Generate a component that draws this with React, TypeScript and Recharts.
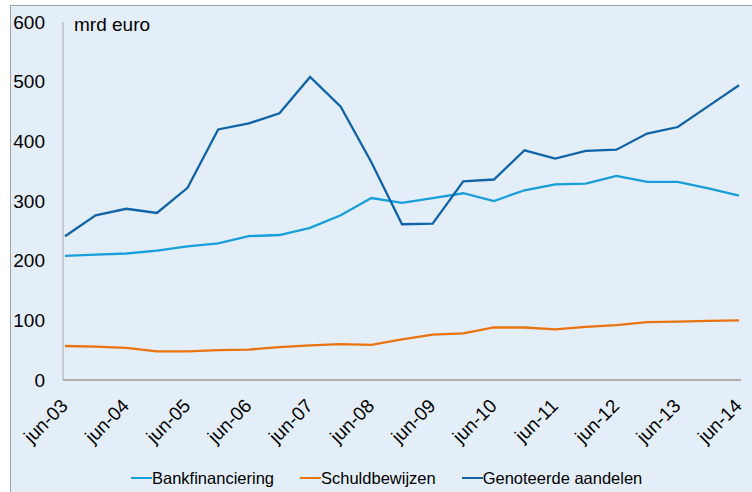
import React from "react";
import { LineChart, Line, XAxis, YAxis, Legend } from "recharts";

const periods = [
  "jun-03", "dec-03", "jun-04", "dec-04", "jun-05", "dec-05", "jun-06", "dec-06",
  "jun-07", "dec-07", "jun-08", "dec-08", "jun-09", "dec-09", "jun-10", "dec-10",
  "jun-11", "dec-11", "jun-12", "dec-12", "jun-13", "dec-13", "jun-14",
];

const bankfinanciering = [
  208, 210, 212, 217, 224, 229, 241, 243, 255, 276, 305, 297, 305, 313, 300, 318,
  328, 329, 342, 332, 332, 321, 309,
];

const schuldbewijzen = [
  57, 56, 54, 48, 48, 50, 51, 55, 58, 60, 59, 68, 76, 78, 88, 88,
  85, 89, 92, 97, 98, 99, 100,
];

const genoteerdeAandelen = [
  241, 276, 287, 280, 322, 420, 430, 447, 508, 458, 365, 261, 262, 333, 336, 385,
  371, 384, 386, 413, 424, 459, 494,
];

const yTicks = [0, 100, 200, 300, 400, 500, 600];

const series = [
  { key: "bank", name: "Bankfinanciering", color: "#169FDB" },
  { key: "schuld", name: "Schuldbewijzen", color: "#E8730F" },
  { key: "aandelen", name: "Genoteerde aandelen", color: "#0F64A9" },
];

const data = periods.map((p, i) => ({
  period: p,
  bank: bankfinanciering[i],
  schuld: schuldbewijzen[i],
  aandelen: genoteerdeAandelen[i],
}));

const font = "'Liberation Sans', Arial, sans-serif";

const XTick = (props: any) => {
  const { x, y, payload } = props;
  const ax = x + 4;
  const ay = y + 27;
  return (
    <text
      x={ax}
      y={ay}
      transform={`rotate(-45 ${ax} ${ay})`}
      textAnchor="end"
      fill="#000"
      fontSize={19}
      fontFamily={font}
    >
      {payload.value}
    </text>
  );
};

const LegendContent = () => (
  <div
    style={{
      display: "flex",
      alignItems: "center",
      paddingLeft: 131,
      height: 22,
      fontFamily: font,
      fontSize: 16.5,
      color: "#000",
    }}
  >
    {series.map((s) => (
      <div key={s.key} style={{ display: "flex", alignItems: "center", marginRight: 26 }}>
        <div style={{ width: 21, height: 2.5, background: s.color }} />
        <span>{s.name}</span>
      </div>
    ))}
  </div>
);

export default function App() {
  return (
    <div style={{ position: "absolute", left: 0, top: 0, width: 752, height: 492, background: "#fff", overflow: "hidden" }}>
      <div
        style={{
          position: "absolute",
          left: 10,
          top: 5,
          width: 760,
          height: 500,
          border: "1.5px solid #A3A3A3",
          background: "#E4EEF8",
        }}
      />
      <div style={{ position: "absolute", left: 0, top: 0 }}>
        <LineChart
          width={752}
          height={492}
          data={data}
          margin={{ top: 22, right: 11, bottom: 20, left: 0 }}
        >
          <XAxis
            dataKey="period"
            interval={1}
            tickLine={false}
            tickSize={0}
            tickMargin={0}
            height={70}
            padding={{ left: 2, right: 2 }}
            axisLine={{ stroke: "#B0B0B0", strokeWidth: 2 }}
            tick={<XTick />}
          />
          <YAxis
            domain={[0, 600]}
            ticks={yTicks}
            width={63}
            tickLine={false}
            tickSize={0}
            tickMargin={18}
            axisLine={{ stroke: "#A6A6A6", strokeWidth: 1 }}
            tick={{ fill: "#000", fontSize: 19, fontFamily: font }}
          />
          <Legend
            verticalAlign="bottom"
            content={<LegendContent />}
            wrapperStyle={{ left: 0, top: 467, bottom: "auto", width: 752, height: 22 }}
          />
          {series.map((s) => (
            <Line
              key={s.key}
              dataKey={s.key}
              name={s.name}
              stroke={s.color}
              strokeWidth={2.3}
              dot={false}
              type="linear"
              isAnimationActive={false}
            />
          ))}
        </LineChart>
      </div>
      <div
        style={{
          position: "absolute",
          left: 74,
          top: 14,
          fontFamily: font,
          fontSize: 19,
          color: "#000",
        }}
      >
        mrd euro
      </div>
    </div>
  );
}
